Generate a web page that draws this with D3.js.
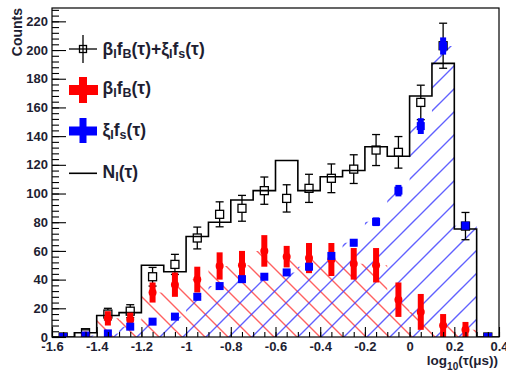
<!DOCTYPE html>
<html>
<head>
<meta charset="utf-8">
<script src="https://cdn.jsdelivr.net/npm/d3@7"></script>
<style>
  body { margin: 0; background: #fff; }
  svg { display: block; }
  text { font-family: "Liberation Sans", Arial, Helvetica, sans-serif; font-weight: bold; fill: #1e1e32; }
</style>
</head>
<body>
<svg id="chart" width="506" height="374"></svg>
<script>
// Lifetime bins in log10(tau/us), width 0.1
const binLow = [-1.6, -1.5, -1.4, -1.3, -1.2, -1.1, -1.0, -0.9, -0.8, -0.7,
                -0.6, -0.5, -0.4, -0.3, -0.2, -0.1, 0.0, 0.1, 0.2, 0.3];
const binWidth = 0.1;

// N_I(tau): observed histogram (step line)
const nTotal = [0, 3, 15, 17, 50, 45.5, 70, 80, 95.5, 102,
                123, 102, 111.7, 116, 132.6, 126, 168, 190.7, 75.3, 0];

// beta_I f_B + xi_I f_s (open squares)
const sumVal = [0, 3, 16, 18, 42, 50.6, 69, 85.5, 89.7, 102,
                96.6, 103.6, 110.6, 117, 130.3, 128.7, 163.5, 203, 77.3, 0];
const sumErr = [0, 2, 4, 4.5, 6.5, 7, 7.6, 8.7, 9, 9.5,
                9.5, 9.8, 10, 10, 10.8, 11, 12, 15.7, 9.5, 0];

// beta_I f_B (background component, red)
const bgVal = [0, 1, 13, 12, 31, 36.5, 40, 49.5, 50, 60,
               56, 55, 54, 51, 50, 26, 17.5, 8, 5, 0];
const bgErr = [0, 1, 5, 5, 7, 8.5, 9, 9.5, 10, 11,
               7.5, 10.5, 11.5, 11, 12, 12, 12.5, 8, 5.5, 0];

// xi_I f_s (signal component, blue)
const sigVal = [0, 1, 2.5, 7.2, 10.7, 14.2, 28, 35.5, 40.3, 42,
                45, 49, 56.5, 65.7, 80.3, 102, 147, 202.8, 77.6, 0];
const sigErr = [0, 0.5, 1, 1.5, 1.5, 2, 2, 2, 2, 2,
                2, 2.5, 2.5, 2.5, 3, 4, 5.5, 6, 2.5, 0];

const xTickValues = [-1.6, -1.4, -1.2, -1.0, -0.8, -0.6, -0.4, -0.2, 0.0, 0.2, 0.4];
const xTickLabels = ["-1.6", "-1.4", "-1.2", "-1", "-0.8", "-0.6", "-0.4", "-0.2", "0", "0.2", "0.4"];
const yTickValues = [0, 20, 40, 60, 80, 100, 120, 140, 160, 180, 200, 220];

const frameL = 52, frameR = 499, frameT = 8, frameB = 337;
const svg = d3.select("#chart");

const x = d3.scaleLinear().domain([-1.6, 0.4]).range([frameL, frameR]);
const y = d3.scaleLinear().domain([0, 229.3]).range([frameB, frameT]);

const defs = svg.append("defs");
defs.append("clipPath").attr("id", "plotClip")
  .append("rect").attr("x", frameL).attr("y", frameT)
  .attr("width", frameR - frameL).attr("height", frameB - frameT);

// Hatch fills: "/" for signal, "\" for background
const hatch = 23;
defs.append("pattern").attr("id", "hatchBlue")
  .attr("patternUnits", "userSpaceOnUse")
  .attr("width", hatch).attr("height", hatch)
  .attr("patternTransform", "translate(14,0)")
  .append("path")
  .attr("d", `M-2,2 L2,-2 M0,${hatch} L${hatch},0 M${hatch - 2},${hatch + 2} L${hatch + 2},${hatch - 2}`)
  .attr("stroke", "#3a3aff").attr("stroke-opacity", 0.8).attr("stroke-width", 1.4);
defs.append("pattern").attr("id", "hatchRed")
  .attr("patternUnits", "userSpaceOnUse")
  .attr("width", hatch).attr("height", hatch)
  .attr("patternTransform", "translate(6,0)")
  .append("path")
  .attr("d", `M-2,${hatch - 2} L2,${hatch + 2} M0,0 L${hatch},${hatch} M${hatch - 2},-2 L${hatch + 2},2`)
  .attr("stroke", "#ff3a3a").attr("stroke-opacity", 0.8).attr("stroke-width", 1.4);

const plot = svg.append("g").attr("clip-path", "url(#plotClip)");

// Step-shaped histogram points: each bin's low edge plus the final upper edge
function stepPoints(vals) {
  const pts = binLow.map((b, i) => [b, vals[i]]);
  pts.push([binLow[binLow.length - 1] + binWidth, vals[vals.length - 1]]);
  return pts;
}
const area = d3.area().curve(d3.curveStepAfter)
  .x(d => x(d[0])).y0(y(0)).y1(d => y(d[1]));
const line = d3.line().curve(d3.curveStepAfter)
  .x(d => x(d[0])).y(d => y(d[1]));

plot.append("path").datum(stepPoints(bgVal)).attr("d", area).attr("fill", "url(#hatchRed)");
plot.append("path").datum(stepPoints(sigVal)).attr("d", area).attr("fill", "url(#hatchBlue)");
plot.append("path").datum(stepPoints(nTotal)).attr("d", line)
  .attr("fill", "none").attr("stroke", "#000").attr("stroke-width", 1.6);

const centers = binLow.map(b => b + binWidth / 2);

// Open squares with error bars
const half = 4;
centers.forEach((c, i) => {
  const cx = x(c), cy = y(sumVal[i]);
  const g = plot.append("g").attr("stroke", "#000").attr("stroke-width", 1.3).attr("fill", "none");
  if (sumErr[i] > 0) {
    const yHi = y(sumVal[i] + sumErr[i]), yLo = y(sumVal[i] - sumErr[i]);
    if (cy - half > yHi) g.append("line").attr("x1", cx).attr("x2", cx).attr("y1", yHi).attr("y2", cy - half);
    if (cy + half < yLo) g.append("line").attr("x1", cx).attr("x2", cx).attr("y1", cy + half).attr("y2", yLo);
    g.append("line").attr("x1", cx - 4).attr("x2", cx + 4).attr("y1", yHi).attr("y2", yHi);
    g.append("line").attr("x1", cx - 4).attr("x2", cx + 4).attr("y1", yLo).attr("y2", yLo);
  }
  g.append("rect").attr("x", cx - half).attr("y", cy - half).attr("width", 2 * half).attr("height", 2 * half);
});

// Background component: thick red bars with round marker
centers.forEach((c, i) => {
  const cx = x(c);
  plot.append("line").attr("x1", cx).attr("x2", cx)
    .attr("y1", y(bgVal[i] - bgErr[i])).attr("y2", y(bgVal[i] + bgErr[i]))
    .attr("stroke", "#ff0000").attr("stroke-width", 6);
  plot.append("circle").attr("cx", cx).attr("cy", y(bgVal[i])).attr("r", 4).attr("fill", "#ff0000");
});

// Signal component: filled blue squares
centers.forEach((c, i) => {
  const cx = x(c);
  plot.append("line").attr("x1", cx).attr("x2", cx)
    .attr("y1", y(sigVal[i] - sigErr[i])).attr("y2", y(sigVal[i] + sigErr[i]))
    .attr("stroke", "#0000ff").attr("stroke-width", 6);
  plot.append("rect").attr("x", cx - 4).attr("y", y(sigVal[i]) - 4)
    .attr("width", 8).attr("height", 8).attr("fill", "#0000ff");
});

// Frame
svg.append("rect").attr("x", frameL).attr("y", frameT)
  .attr("width", frameR - frameL).attr("height", frameB - frameT)
  .attr("fill", "none").attr("stroke", "#000").attr("stroke-width", 1.2);

// Axes with inward ticks
const xMinor = d3.range(0, 41).map(k => -1.6 + k * 0.05);
svg.append("g").attr("transform", `translate(0,${frameB})`)
  .call(d3.axisBottom(x).tickValues(xMinor).tickSize(-5).tickFormat(""))
  .call(g => g.select(".domain").remove());
svg.append("g").attr("transform", `translate(0,${frameB})`)
  .call(d3.axisBottom(x).tickValues(xTickValues).tickSize(-10).tickPadding(5)
    .tickFormat((d, i) => xTickLabels[i]))
  .call(g => g.select(".domain").remove())
  .call(g => g.selectAll("text").attr("font-size", 13).attr("font-family", null).attr("fill", null));

const yMinor = d3.range(0, 58).map(k => k * 4);
svg.append("g").attr("transform", `translate(${frameL},0)`)
  .call(d3.axisLeft(y).tickValues(yMinor).tickSize(-7).tickFormat(""))
  .call(g => g.select(".domain").remove());
svg.append("g").attr("transform", `translate(${frameL},0)`)
  .call(d3.axisLeft(y).tickValues(yTickValues).tickSize(-14).tickPadding(4).tickFormat(d3.format("d")))
  .call(g => g.select(".domain").remove())
  .call(g => g.selectAll("text").attr("font-size", 13).attr("font-family", null).attr("fill", null));
svg.selectAll(".tick line").attr("stroke", "#000").attr("stroke-width", 1.1);

// Axis titles
svg.append("text").attr("transform", "translate(22,8) rotate(-90)")
  .attr("text-anchor", "end").attr("font-size", 14).text("Counts");
const xt = svg.append("text").attr("x", 498).attr("y", 365).attr("text-anchor", "end").attr("font-size", 13.5);
xt.append("tspan").text("log");
xt.append("tspan").attr("dy", 5).attr("font-size", 10).text("10");
xt.append("tspan").attr("dy", -5).text("(τ(μs))");

// Legend
const leg = svg.append("g");
leg.append("line").attr("x1", 69).attr("x2", 97).attr("y1", 49).attr("y2", 49).attr("stroke", "#000").attr("stroke-width", 1.3);
leg.append("line").attr("x1", 83).attr("x2", 83).attr("y1", 35).attr("y2", 63).attr("stroke", "#000").attr("stroke-width", 1.3);
leg.append("rect").attr("x", 79.5).attr("y", 45.5).attr("width", 7).attr("height", 7)
  .attr("fill", "none").attr("stroke", "#000").attr("stroke-width", 1.3);
leg.append("rect").attr("x", 69).attr("y", 85).attr("width", 29).attr("height", 10).attr("fill", "#ff0000");
leg.append("rect").attr("x", 79).attr("y", 77).attr("width", 8).attr("height", 26).attr("fill", "#ff0000");
leg.append("rect").attr("x", 69).attr("y", 126.5).attr("width", 28).attr("height", 9).attr("fill", "#0000ff");
leg.append("rect").attr("x", 79.5).attr("y", 118).attr("width", 7).attr("height", 25).attr("fill", "#0000ff");
leg.append("line").attr("x1", 69).attr("x2", 97).attr("y1", 173.3).attr("y2", 173.3).attr("stroke", "#000").attr("stroke-width", 1.6);

// Entry labels: [text, subscript] pieces
const legendRows = [
  { y: 55,   parts: [["β", "I"], ["f", "B"], ["(τ)+ξ", "I"], ["f", "s"], ["(τ)", null]] },
  { y: 93.5, parts: [["β", "I"], ["f", "B"], ["(τ)", null]] },
  { y: 136,  parts: [["ξ", "I"], ["f", "s"], ["(τ)", null]] },
  { y: 178,  parts: [["N", "I"], ["(τ)", null]] }
];
legendRows.forEach(row => {
  const t = leg.append("text").attr("x", 102.5).attr("y", row.y).attr("font-size", 17.5);
  let shifted = false;
  row.parts.forEach(([main, sub]) => {
    const s = t.append("tspan").text(main);
    if (shifted) { s.attr("dy", -3); shifted = false; }
    if (sub) {
      t.append("tspan").attr("dy", 3).attr("font-size", 12.5).text(sub);
      shifted = true;
    }
  });
});
</script>
</body>
</html>
